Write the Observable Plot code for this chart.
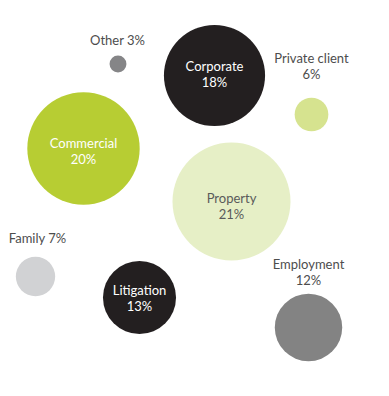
<!DOCTYPE html>
<html>
<head>
<meta charset="utf-8">
<script src="https://cdn.jsdelivr.net/npm/d3@7"></script>
<script src="https://cdn.jsdelivr.net/npm/@observablehq/plot@0.6"></script>
<style>
  html, body { margin: 0; padding: 0; background: #fff; }
  #chart svg { display: block; }
</style>
</head>
<body>
<div id="chart"></div>
<script>
// Practice areas and their share of revenue (%)
const names  = ["Other", "Corporate", "Private client", "Commercial", "Property", "Family", "Litigation", "Employment"];
const shares = [3, 18, 6, 20, 21, 7, 13, 12];
// Bubble layout positions (layout units)
const posX = [117.5, 214, 311, 83, 231, 35, 139, 308];
const posY = [63.5, 75, 114, 148, 201, 276, 297, 327];
// Label placement: inside the bubble or above it
const labelInside = [false, true, false, true, true, false, true, false];
const labelX = [117, 214, 311, 83, 231, 37, 139, 308];
const labelY = [39, 73, 65.5, 150, 205, 237.5, 297, 271.5];
const labelText = ["Other 3%", "Corporate\n18%", "Private client\n6%", "Commercial\n20%", "Property\n21%", "Family 7%", "Litigation\n13%", "Employment\n12%"];
const bubbleColors = ["#858587", "#231f20", "#d6e38f", "#b7cd33", "#e6efc6", "#d1d2d4", "#231f20", "#838383"];

const data = names.map((name, i) => ({
  name, share: shares[i], x: posX[i], y: posY[i],
  lx: labelX[i], ly: labelY[i], label: labelText[i], inside: labelInside[i]
}));

const darkBubbles = new Set(["Corporate", "Commercial", "Litigation"]);
const textColor = d => darkBubbles.has(d.name) ? "#ffffff" : (d.inside ? "#5a5a5a" : "#4d4d4d");

const chart = Plot.plot({
  width: 389,
  height: 396,
  margin: 0,
  style: { fontFamily: "Lato, sans-serif", background: "#fff" },
  x: { domain: [0, 389], range: [0, 389], axis: null },
  y: { domain: [0, 396], range: [0, 396], axis: null },
  r: { type: "linear", domain: [0, 21], range: [0, 59] },
  color: { domain: names, range: bubbleColors },
  marks: [
    Plot.dot(data, { x: "x", y: "y", r: "share", fill: "name", stroke: "none" }),
    Plot.text(data, {
      x: "lx", y: "ly", text: "label",
      fill: textColor,
      fontSize: 13, fontWeight: 400, lineHeight: 1.25, lineAnchor: "middle",
      textAnchor: "middle"
    })
  ]
});
document.getElementById("chart").appendChild(chart);
</script>
</body>
</html>
